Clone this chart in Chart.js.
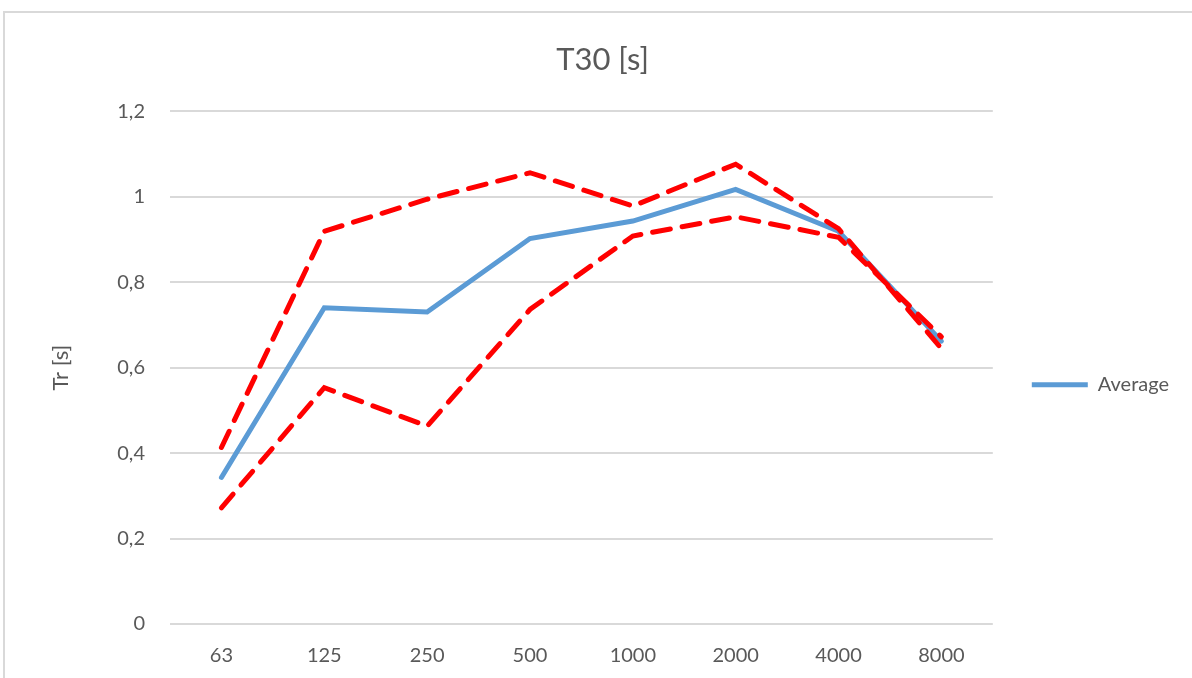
<!DOCTYPE html>
<html lang="en">

<head>
    <meta charset="UTF-8">
    <title>T30 [s]</title>
    <script src="https://cdn.jsdelivr.net/npm/chart.js"></script>
    <style>
        body { margin: 0; background: #fff; }
        #frame {
            position: absolute; left: 3px; top: 11px; width: 1189px; height: 667px;
            border-left: 2px solid #d9d9d9; border-top: 2px solid #d9d9d9;
        }
        #myChart { position: absolute; left: 0; top: 0; }
    </style>
</head>

<body>
    <div id="frame"></div>
    <canvas id="myChart" width="1192" height="678"></canvas>

    <script>
        // octave band centre frequencies (Hz)
        const bands = ['63', '125', '250', '500', '1000', '2000', '4000', '8000'];
        const average = [0.343, 0.740, 0.730, 0.902, 0.943, 1.017, 0.919, 0.662];
        const maxT30 = [0.413, 0.919, 0.994, 1.056, 0.978, 1.076, 0.925, 0.645];
        const minT30 = [0.272, 0.553, 0.463, 0.736, 0.908, 0.953, 0.905, 0.672];
        const yTicks = [0, 0.2, 0.4, 0.6, 0.8, 1, 1.2];

        const grey = '#595959';
        const font = 'Lato';

        const ctx = document.getElementById('myChart');

        new Chart(ctx, {
            type: 'line',
            data: {
                labels: bands,
                datasets: [{
                    label: 'Max',
                    data: maxT30,
                    borderColor: '#ff0000',
                    borderWidth: 5,
                    borderDash: [18, 12],
                    borderCapStyle: 'round',
                    pointRadius: 0,
                    tension: 0,
                }, {
                    label: 'Min',
                    data: minT30,
                    borderColor: '#ff0000',
                    borderWidth: 5,
                    borderDash: [18, 12],
                    borderCapStyle: 'round',
                    pointRadius: 0,
                    tension: 0,
                }, {
                    label: 'Average',
                    data: average,
                    borderColor: '#5b9bd5',
                    backgroundColor: '#5b9bd5',
                    borderWidth: 5,
                    borderCapStyle: 'round',
                    pointRadius: 0,
                    tension: 0,
                }]
            },
            options: {
                responsive: false,
                animation: false,
                layout: { padding: { left: 26, right: 13, top: 0, bottom: 0 } },
                plugins: {
                    title: {
                        display: true,
                        text: 'T30 [s]',
                        color: grey,
                        font: { family: font, size: 31, weight: 'normal' },
                        padding: { top: 41, bottom: 33 },
                    },
                    legend: {
                        position: 'right',
                        fullSize: false,
                        title: { display: true, text: '', font: { size: 12 }, padding: 10 },
                        labels: {
                            filter: item => item.text === 'Average',
                            usePointStyle: true,
                            pointStyle: 'line',
                            pointStyleWidth: 56,
                            color: grey,
                            padding: 10,
                            font: { family: font, size: 20 },
                        },
                    },
                    tooltip: { enabled: false },
                },
                scales: {
                    x: {
                        offset: true,
                        grid: { display: false, drawTicks: false, offset: true },
                        border: { display: false },
                        ticks: { color: grey, padding: 20, font: { family: font, size: 20 } },
                        afterFit: s => { s.height = 54; },
                    },
                    y: {
                        min: 0,
                        max: 1.2,
                        afterBuildTicks: s => { s.ticks = yTicks.map(v => ({ value: v })); },
                        grid: { color: '#d9d9d9', lineWidth: 2, drawTicks: false },
                        border: { display: false },
                        ticks: {
                            color: grey,
                            padding: 25,
                            font: { family: font, size: 20 },
                            callback: v => String(v).replace('.', ','),
                        },
                        title: {
                            display: true,
                            text: 'Tr [s]',
                            color: grey,
                            font: { family: font, size: 22 },
                            padding: { top: 22, bottom: 0 },
                        },
                        afterFit: s => { s.width = 144; },
                    },
                    gap: {
                        type: 'linear',
                        position: 'right',
                        display: true,
                        grid: { display: false },
                        border: { display: false },
                        ticks: { display: false },
                        afterFit: s => { s.width = 29; },
                    },
                },
            },
        });
    </script>
</body>

</html>
